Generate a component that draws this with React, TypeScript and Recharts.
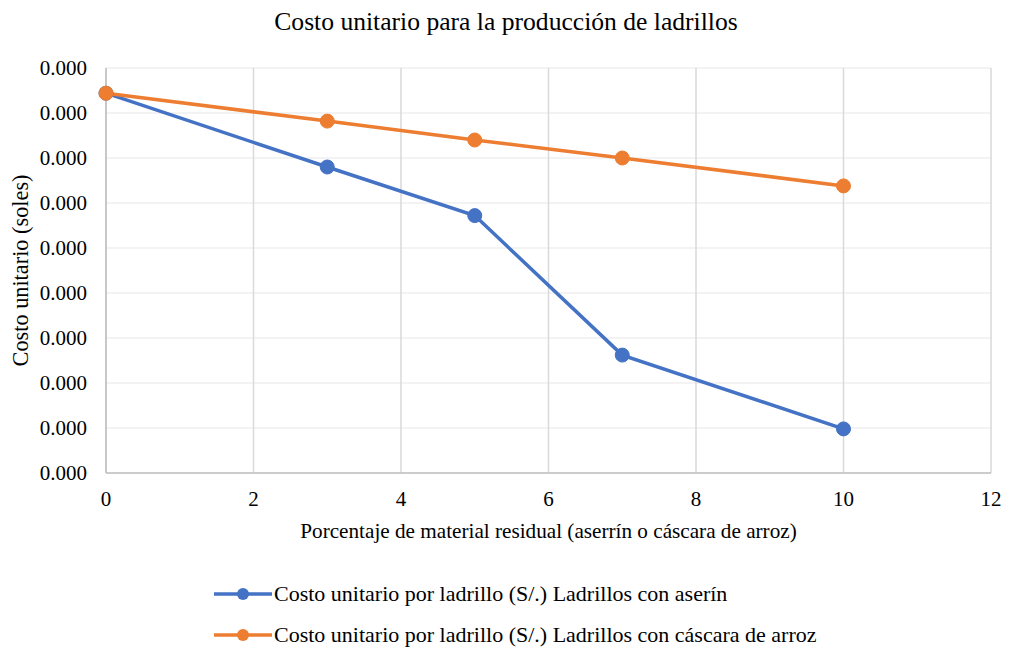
import React from "react";
import {
  LineChart,
  Line,
  XAxis,
  YAxis,
  CartesianGrid,
  Legend,
} from "recharts";

// Porcentaje de material residual (%)
const porcentajes = [0, 3, 5, 7, 10];
// Costo unitario por ladrillo (S/.)
const costoAserrin = [0.000422, 0.00034, 0.000286, 0.000131, 0.000049];
const costoCascara = [0.000422, 0.000391, 0.00037, 0.00035, 0.000319];

const xTicks = [0, 2, 4, 6, 8, 10, 12];
const yTicks = [0, 0.00005, 0.0001, 0.00015, 0.0002, 0.00025, 0.0003, 0.00035, 0.0004, 0.00045];

const serieAserrin = "Costo unitario por ladrillo (S/.) Ladrillos con aserín";
const serieCascara = "Costo unitario por ladrillo (S/.) Ladrillos con cáscara de arroz";

const data = porcentajes.map((p, i) => ({
  p,
  aserrin: costoAserrin[i],
  cascara: costoCascara[i],
}));

const FONT = '"Liberation Serif", "Times New Roman", serif';
const BLUE = "#4472C4";
const ORANGE = "#ED7D31";

const LegendContent = () => {
  const items = [
    { name: serieAserrin, color: BLUE },
    { name: serieCascara, color: ORANGE },
  ];
  return (
    <div style={{ fontFamily: FONT, fontSize: 22, color: "#000" }}>
      {items.map((it) => (
        <div key={it.name} style={{ display: "flex", alignItems: "center", height: 41 }}>
          <svg width={59} height={16} style={{ marginRight: 1 }}>
            <line x1={0} y1={8} x2={58} y2={8} stroke={it.color} strokeWidth={3.5} />
            <circle cx={29} cy={8} r={6} fill={it.color} />
          </svg>
          <span>{it.name}</span>
        </div>
      ))}
    </div>
  );
};

export default function App() {
  return (
    <div style={{ position: "absolute", left: 0, top: 0, width: 1012, height: 648, background: "#fff" }}>
      <div
        style={{
          position: "absolute",
          top: 6,
          left: 0,
          width: 1012,
          textAlign: "center",
          fontFamily: FONT,
          fontSize: 25.6,
          lineHeight: "32px",
          color: "#000",
        }}
      >
        Costo unitario para la producción de ladrillos
      </div>
      <LineChart
        width={1012}
        height={648}
        data={data}
        margin={{ top: 68, right: 21, bottom: 105, left: 0 }}
      >
        <CartesianGrid horizontal={true} vertical={false} stroke="#EFEFEF" strokeWidth={1.5} />
        <CartesianGrid horizontal={false} vertical={true} stroke="#D9D9D9" strokeWidth={1.5} />
        <XAxis
          dataKey="p"
          type="number"
          domain={[0, 12]}
          ticks={xTicks}
          tickLine={false}
          axisLine={{ stroke: "#BFBFBF", strokeWidth: 1.5 }}
          tick={{ fill: "#000", fontFamily: FONT, fontSize: 21 }}
          tickMargin={12}
          height={70}
          label={({ viewBox }: any) => (
            <text
              x={viewBox.x + viewBox.width / 2}
              y={viewBox.y + 65}
              textAnchor="middle"
              fontFamily={FONT}
              fontSize={21.2}
              fill="#000"
            >
              Porcentaje de material residual (aserrín o cáscara de arroz)
            </text>
          )}
        />
        <YAxis
          type="number"
          domain={[0, 0.00045]}
          ticks={yTicks}
          tickFormatter={(v: number) => v.toFixed(3)}
          tickLine={false}
          axisLine={{ stroke: "#BFBFBF", strokeWidth: 1.5 }}
          tick={{ fill: "#000", fontFamily: FONT, fontSize: 21 }}
          tickMargin={13}
          width={106}
          label={({ viewBox }: any) => (
            <text
              x={0}
              y={0}
              transform={`translate(${viewBox.x + 28}, ${viewBox.y + viewBox.height / 2}) rotate(-90)`}
              textAnchor="middle"
              fontFamily={FONT}
              fontSize={22.3}
              fill="#000"
            >
              Costo unitario (soles)
            </text>
          )}
        />
        <Legend
          layout="horizontal"
          verticalAlign="middle"
          align="center"
          content={<LegendContent />}
          wrapperStyle={{ position: "absolute", top: 573, left: 214, width: 720 }}
        />
        <Line
          type="linear"
          dataKey="aserrin"
          name={serieAserrin}
          stroke={BLUE}
          strokeWidth={3.5}
          dot={{ r: 7, fill: BLUE, stroke: BLUE, strokeWidth: 1 }}
          isAnimationActive={false}
        />
        <Line
          type="linear"
          dataKey="cascara"
          name={serieCascara}
          stroke={ORANGE}
          strokeWidth={3.5}
          dot={{ r: 7, fill: ORANGE, stroke: ORANGE, strokeWidth: 1 }}
          isAnimationActive={false}
        />
      </LineChart>
    </div>
  );
}
